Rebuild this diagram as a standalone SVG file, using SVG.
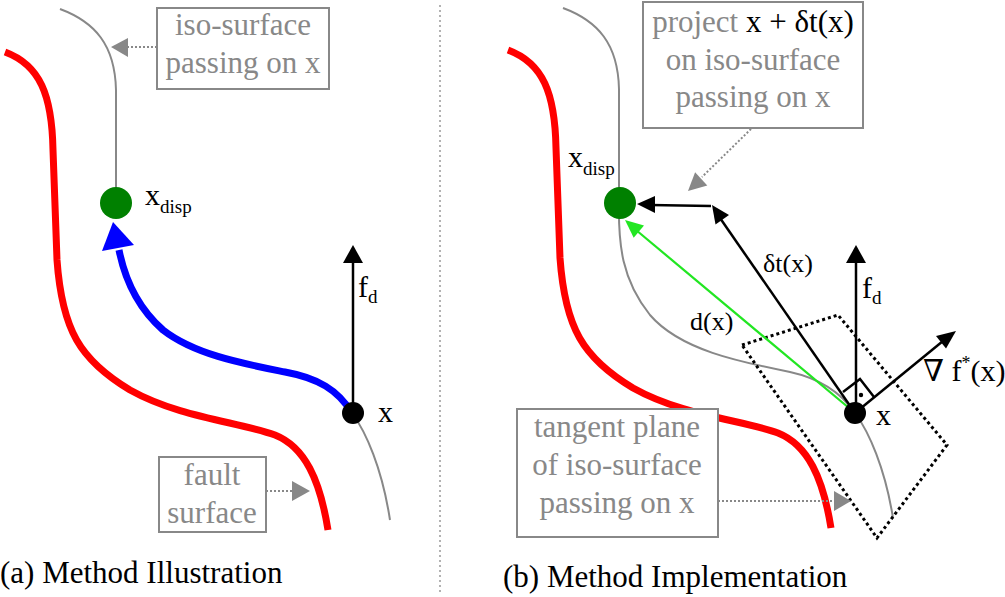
<svg xmlns="http://www.w3.org/2000/svg" width="1005" height="597" viewBox="0 0 1005 597">
<style>
text{font-family:"Liberation Serif","DejaVu Serif",serif;}
.lbl{font-size:31px;fill:#888;text-anchor:middle;}
.blk{fill:#000;}
.box{fill:#fff;stroke:#888;stroke-width:2;}
.dot{fill:none;stroke:#888;stroke-width:2;stroke-dasharray:2 2;}
.garr{fill:#888;}
.red{fill:none;stroke:#f00;stroke-width:7;stroke-linecap:butt;}
.iso{fill:none;stroke:#888;stroke-width:2;}
.ln{stroke:#000;stroke-width:2.5;fill:none;}
.ah{fill:#000;}
.cap{font-size:31px;fill:#000;}
.sym{font-size:30px;fill:#000;}
.sml{font-size:26px;fill:#000;}
</style>
<defs>
<path id="redc" d="M5,52 C40,65 52,95 53,150 L57,260 C62,330 80,360 130,390 C180,418 240,422 275,435 C305,447 320,480 328,530"/>
</defs>

<line x1="440" y1="5" x2="440" y2="592" stroke="#999" stroke-width="1.5" stroke-dasharray="2 3"/>

<!-- Left panel -->
<g id="a-fault-curve"><use href="#redc" class="red"/></g>
<g id="a-iso-curve">
<path class="iso" d="M60,9 C95,22 115,45 116,90 L116,195"/>
<path class="iso" d="M352,413 C366,432 382,468 390,520"/>
</g>
<g id="connectors-a">
<path d="M352,413 C338,390 318,378 285,372 C245,364 195,355 163,330 C138,308 125,280 119,250" fill="none" stroke="#00f" stroke-width="7"/>
<polygon points="113,222 102,251 134,245" fill="#00f"/>
<line class="ln" x1="353" y1="413" x2="353" y2="258"/>
<polygon class="ah" points="353,245 343,263 363,263"/>
<line class="dot" x1="157" y1="47" x2="128" y2="47"/>
<polygon class="garr" points="111,47 128,38 128,57"/>
<line class="dot" x1="266" y1="491" x2="292" y2="491"/>
<polygon class="garr" points="310,491 292,481 292,501"/>
</g>
<g id="a-xdisp">
<circle cx="116" cy="203" r="16" fill="#008000"/>
<text class="sym" x="145" y="205">x<tspan font-size="19" dy="8">disp</tspan></text>
</g>
<g id="a-x">
<circle cx="353" cy="413" r="11" fill="#000"/>
<text class="sym" x="378" y="422">x</text>
</g>
<g id="a-fd"><text class="sym" x="358" y="297">f<tspan font-size="19" dy="6">d</tspan></text></g>
<g id="a-iso-box">
<rect class="box" x="157" y="8" width="172" height="81"/>
<text class="lbl" x="243" y="35">iso-surface</text>
<text class="lbl" x="243" y="73">passing on x</text>
</g>
<g id="a-fault-box">
<rect class="box" x="159" y="457" width="107" height="75"/>
<text class="lbl" x="212" y="485">fault</text>
<text class="lbl" x="212" y="523">surface</text>
</g>
<text class="cap" x="0" y="583">(a) Method Illustration</text>

<!-- Right panel -->
<g id="b-fault-curve"><use href="#redc" class="red" transform="translate(503,-2)"/></g>
<g id="b-iso-curve">
<path class="iso" d="M563,8 C598,21 618,44 619,89 L619,200 C618,245 622,280 650,315 C680,350 740,362 790,372 C822,379 842,394 855,413 C869,432 885,468 893,518"/>
</g>
<g id="b-tangent-plane">
<polygon points="742,345 838,315 947,445 877,538" fill="none" stroke="#000" stroke-width="3" stroke-dasharray="3 3"/>
</g>
<g id="connectors-b">
<line x1="855" y1="413" x2="636" y2="230" stroke="#22e622" stroke-width="2.2"/>
<polygon points="625,220 644,225.5 633.7,237.7" fill="#22e622"/>
<line class="ln" x1="855" y1="413" x2="720" y2="218"/>
<polygon class="ah" points="712,205 729,215 715.5,224.5"/>
<line class="ln" x1="711" y1="206" x2="650" y2="205"/>
<polygon class="ah" points="637,204 655,196 655,213"/>
<line class="ln" x1="856" y1="413" x2="856" y2="258"/>
<polygon class="ah" points="856,245 846,263 866,263"/>
<line class="ln" x1="855" y1="413" x2="943" y2="341"/>
<polygon class="ah" points="956,331 946,348.5 936,336"/>
<polyline class="ln" points="843,392 860,379 874,397" stroke-width="2"/>
<circle cx="861" cy="395" r="2.2" fill="#000"/>
<line class="dot" x1="751" y1="129" x2="702" y2="177"/>
<polygon class="garr" points="688,191 707.3,185.4 695.1,172.2"/>
<line class="dot" x1="718" y1="501" x2="834" y2="501"/>
<polygon class="garr" points="851,501 834,491 834,511"/>
</g>
<g id="b-xdisp">
<circle cx="620" cy="203" r="16" fill="#008000"/>
<text class="sym" x="568" y="167">x<tspan font-size="19" dy="8">disp</tspan></text>
</g>
<g id="b-x">
<circle cx="855" cy="413" r="11" fill="#000"/>
<text class="sym" x="876" y="425">x</text>
</g>
<g id="b-labels">
<text class="sml" x="763" y="272">δt(x)</text>
<text class="sml" x="690" y="330">d(x)</text>
<text class="sym" x="862" y="298">f<tspan font-size="19" dy="6">d</tspan></text>
<text class="sym" x="923" y="381">∇ f<tspan font-size="18" dy="-12">*</tspan><tspan dy="12">(x)</tspan></text>
</g>
<g id="b-project-box">
<rect class="box" x="643" y="2" width="220" height="126"/>
<text class="lbl" x="753" y="32">project <tspan class="blk">x + δt(x)</tspan></text>
<text class="lbl" x="753" y="70">on iso-surface</text>
<text class="lbl" x="753" y="107">passing on x</text>
</g>
<g id="b-tangent-box">
<rect class="box" x="517" y="409" width="201" height="128"/>
<text class="lbl" x="617" y="437">tangent plane</text>
<text class="lbl" x="617" y="475">of iso-surface</text>
<text class="lbl" x="617" y="513">passing on x</text>
</g>
<text class="cap" x="503" y="587">(b) Method Implementation</text>
</svg>
